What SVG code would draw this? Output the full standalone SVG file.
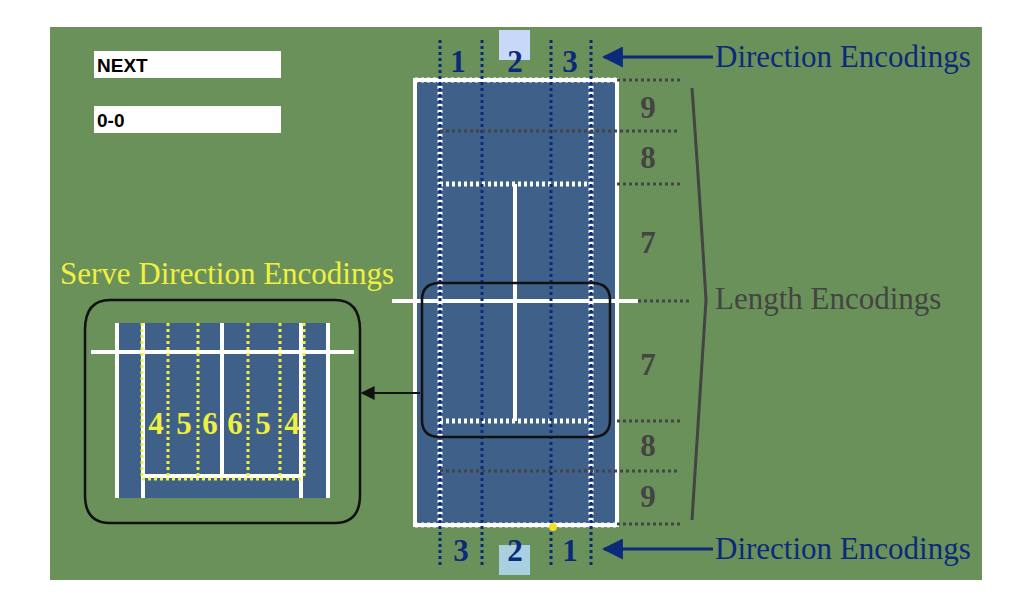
<svg xmlns="http://www.w3.org/2000/svg" width="1024" height="611" viewBox="0 0 1024 611">
<defs>
<style>
.w{stroke:#fff;stroke-width:4;fill:none}
.nd{stroke:#0b2a7a;stroke-width:3;stroke-dasharray:3 3;fill:none}
.wd{stroke:#fff;stroke-width:5;stroke-dasharray:3 3;fill:none}
.gd{stroke:#444;stroke-width:3;stroke-dasharray:3 3;fill:none}
.yd{stroke:#f0f040;stroke-width:3;stroke-dasharray:3 3;fill:none}
.num{font-family:"Liberation Serif",serif;font-weight:bold;font-size:31px;text-anchor:middle}
.lab{font-family:"Liberation Serif",serif;font-size:31px}
</style>
<marker id="ah" viewBox="0 0 10 10" refX="9" refY="5" markerWidth="7" markerHeight="7" orient="auto"><path d="M0,0L10,5L0,10z" fill="context-stroke"/></marker>
</defs>
<rect width="1024" height="611" fill="#fff"/>
<rect x="50" y="27" width="932" height="553" fill="#6b915b"/>
<g id="next"><rect x="94" y="51" width="187" height="27" fill="#fff"/><text x="97" y="72" font-family="Liberation Sans,sans-serif" font-weight="bold" font-size="19">NEXT</text></g>
<g id="score"><rect x="94" y="106" width="187" height="27" fill="#fff"/><text x="97" y="127" font-family="Liberation Sans,sans-serif" font-weight="bold" font-size="19">0-0</text></g>
<g id="court">
<rect x="499" y="30" width="31" height="30" fill="#c8d8f8"/>
<rect x="499" y="545" width="31" height="30" fill="#a8d0e0"/>
<rect x="415" y="80" width="202" height="445" fill="#3f6189" stroke="#fff" stroke-width="4"/>
<line x1="515" y1="184" x2="515" y2="421" class="w"/>
<line x1="392" y1="301" x2="638" y2="301" class="w"/>
<path d="M440,80V525M591,80V525M440,184H591M440,421H591M415,80H617M415,525H617" class="wd"/>
<path d="M440,40V565M482,40V565M551,40V565M591,40V565" class="nd"/>
<path d="M617,80H680M440,131H680M617,184H680M638,301H690M617,421H680M440,471H680M617,524H680" class="gd"/>
<circle cx="553" cy="527" r="4" fill="#f0e020"/>
</g>
<g id="labels">
<g class="num" fill="#0b2a7a"><text x="458" y="72">1</text><text x="515" y="72">2</text><text x="570" y="72">3</text><text x="461" y="561">3</text><text x="515" y="561">2</text><text x="570" y="561">1</text></g>
<g class="num" fill="#444"><text x="648" y="118">9</text><text x="648" y="168">8</text><text x="648" y="253">7</text><text x="648" y="375">7</text><text x="648" y="456">8</text><text x="648" y="507">9</text></g>
<text x="715" y="67" class="lab" fill="#0b2a7a">Direction Encodings</text>
<text x="715" y="559" class="lab" fill="#0b2a7a">Direction Encodings</text>
<text x="715" y="309" class="lab" fill="#444">Length Encodings</text>
<text x="60" y="284" class="lab" fill="#f0f040">Serve Direction Encodings</text>
<path d="M692,88Q700,200 706,300Q700,400 692,520" fill="none" stroke="#444" stroke-width="3"/>
</g>
<g id="zoom">
<path d="M110,300H335Q360,300 360,330V495Q360,523 335,523H110Q85,523 85,495V330Q85,300 110,300Z" fill="none" stroke="#111" stroke-width="2.5"/>
<rect x="117" y="323" width="213" height="175" fill="#3f6189"/>
<path d="M117,323V498M143,323V498M222,323V476M301,323V498M328,323V498M143,476H301" class="w"/>
<line x1="91" y1="352" x2="354" y2="352" class="w"/>
<path d="M142,323V479M168,323V479M198,323V479M248,323V479M280,323V479M304,323V479M142,479H304" class="yd"/>
<g class="num" fill="#f0f040" font-size="30"><text x="156" y="434">4</text><text x="184" y="434">5</text><text x="210" y="434">6</text><text x="235" y="434">6</text><text x="263" y="434">5</text><text x="292" y="434">4</text></g>
<path d="M440,283H592Q610,283 610,300V420Q610,437 592,437H440Q422,437 422,420V300Q422,283 440,283Z" fill="none" stroke="#111" stroke-width="2.5"/>
</g>
<g id="connectors" fill="none" stroke-width="3" marker-end="url(#ah)">
<line x1="713" y1="57" x2="604" y2="57" stroke="#0b2a7a"/>
<line x1="713" y1="549" x2="604" y2="549" stroke="#0b2a7a"/>
<line x1="420" y1="393" x2="362" y2="393" stroke="#111" stroke-width="2"/>
</g>
</svg>
